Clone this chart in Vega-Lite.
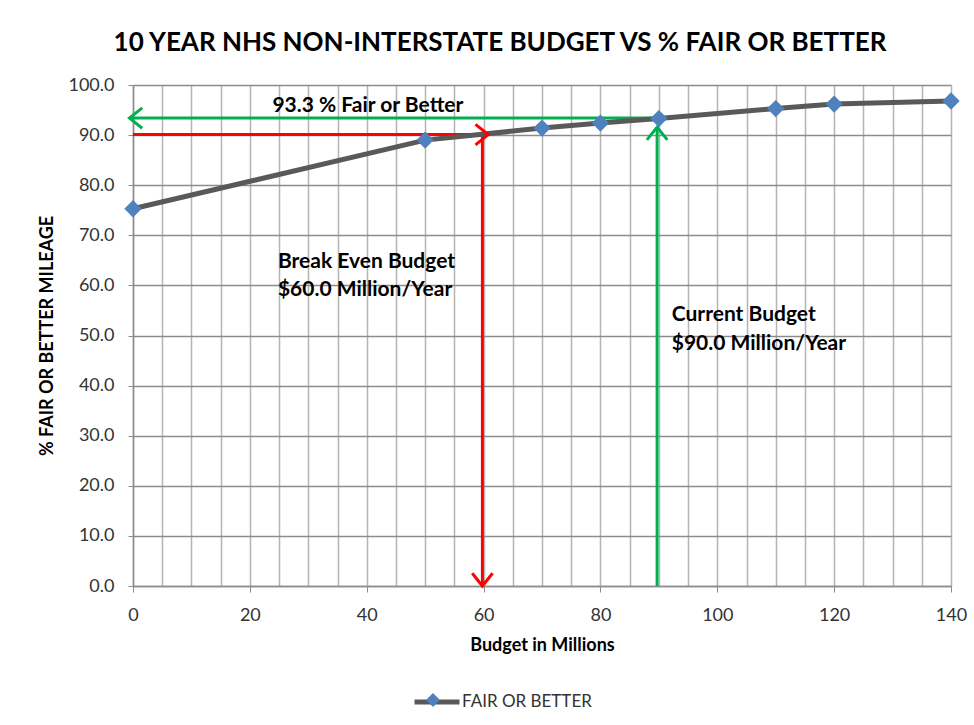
{
  "$schema": "https://vega.github.io/schema/vega-lite/v6.json",
  "width": 818,
  "height": 501,
  "autosize": "none",
  "padding": {"left": 133, "top": 85, "right": 23, "bottom": 139},
  "background": "white",
  "config": {
    "font": "Lato",
    "view": {"stroke": null}
  },
  "title": {
    "text": "10 YEAR NHS NON-INTERSTATE BUDGET VS % FAIR OR BETTER",
    "font": "Lato",
    "fontSize": 26,
    "fontWeight": "bold",
    "color": "#000000",
    "anchor": "middle",
    "frame": "group",
    "baseline": "bottom",
    "offset": -6,
    "dx": -42
  },
  "datasets": {
    "series": [
      {"budget": 0, "pct": 75.3},
      {"budget": 50, "pct": 89.0},
      {"budget": 70, "pct": 91.4},
      {"budget": 80, "pct": 92.4},
      {"budget": 90, "pct": 93.3},
      {"budget": 110, "pct": 95.3},
      {"budget": 120, "pct": 96.2},
      {"budget": 140, "pct": 96.8}
    ],
    "arrows": [
      {"kind": "current", "x": 90, "x2": -0.6, "y": 93.4, "y2": 93.4},
      {"kind": "current", "x": 89.7, "x2": 89.7, "y": 0, "y2": 91.6},
      {"kind": "breakeven", "x": 0, "x2": 60.8, "y": 90.1, "y2": 90.1},
      {"kind": "breakeven", "x": 59.8, "x2": 59.8, "y": 90.1, "y2": 0}
    ],
    "heads": [
      {"kind": "current", "dir": "left", "x": -0.6, "y": 93.4},
      {"kind": "current", "dir": "up", "x": 89.7, "y": 91.6},
      {"kind": "breakeven", "dir": "right", "x": 60.8, "y": 90.1},
      {"kind": "breakeven", "dir": "down", "x": 59.8, "y": 0}
    ],
    "labelsCenter": [
      {"x": 40.2, "y": 95.9, "text": "93.3 % Fair or Better"}
    ],
    "labelsLeft": [
      {"x": 24.8, "y": 64.7, "text": "Break Even Budget"},
      {"x": 24.8, "y": 59.1, "text": "$60.0 Million/Year"},
      {"x": 92.2, "y": 54.1, "text": "Current Budget"},
      {"x": 92.2, "y": 48.4, "text": "$90.0 Million/Year"}
    ]
  },
  "layer": [
    {
      "data": {"name": "series"},
      "mark": {"type": "line", "color": "#595959", "strokeWidth": 5, "opacity": 0},
      "encoding": {
        "x": {
          "field": "budget", "type": "quantitative",
          "scale": {"domain": [0, 140], "nice": false, "zero": false},
          "axis": {
            "title": "Budget in Millions",
            "values": [0,5,10,15,20,25,30,35,40,45,50,55,60,65,70,75,80,85,90,95,100,105,110,115,120,125,130,135,140],
            "tickCount": 40,
            "labelExpr": "datum.value % 20 === 0 ? datum.label : ''",
            "labelFlush": false,
            "labelFont": "Lato", "labelFontSize": 18, "labelColor": "#333333",
            "labelPadding": 14,
            "tickSize": 6, "tickColor": "#8c8c8c",
            "tickOpacity": {"condition": {"test": "datum.value % 20 === 0", "value": 1}, "value": 0},
            "domainColor": "#8c8c8c", "domainWidth": 1.5,
            "grid": true, "gridColor": "#b4b4b4", "gridWidth": 1.5,
            "titleFont": "Lato", "titleFontSize": 18, "titleFontWeight": "bold", "titleColor": "#000000",
            "titlePadding": 12
          }
        },
        "y": {
          "field": "pct", "type": "quantitative",
          "scale": {"domain": [0, 100], "nice": false},
          "axis": {
            "title": "% FAIR OR BETTER MILEAGE",
            "values": [0,10,20,30,40,50,60,70,80,90,100],
            "tickCount": 20,
            "format": ".1f",
            "labelFlush": false,
            "labelFont": "Lato", "labelFontSize": 18, "labelColor": "#333333",
            "labelPadding": 14,
            "tickSize": 5, "tickColor": "#8c8c8c",
            "domainColor": "#8c8c8c", "domainWidth": 1.5,
            "grid": true, "gridColor": "#8c8c8c", "gridWidth": 1.5,
            "titleFont": "Lato", "titleFontSize": 18, "titleFontWeight": "bold", "titleColor": "#000000",
            "titlePadding": 11
          }
        }
      }
    },
    {
      "data": {"name": "arrows"},
      "mark": {"type": "rule", "strokeWidth": 3},
      "encoding": {
        "x": {"field": "x", "type": "quantitative"},
        "x2": {"field": "x2"},
        "y": {"field": "y", "type": "quantitative"},
        "y2": {"field": "y2"},
        "color": {"field": "kind", "type": "nominal", "scale": {"domain": ["current", "breakeven"], "range": ["#00b050", "#ff0000"]}, "legend": null}
      }
    },
    {
      "data": {"name": "series"},
      "mark": {"type": "line", "strokeWidth": 5},
      "encoding": {
        "x": {"field": "budget", "type": "quantitative"},
        "y": {"field": "pct", "type": "quantitative"},
        "stroke": {
          "datum": "FAIR OR BETTER",
          "scale": {"range": ["#595959"]},
          "legend": {
            "title": null,
            "orient": "none",
            "legendX": 279,
            "legendY": 592,
            "padding": 0,
            "symbolType": "stroke",
            "symbolSize": 2025,
            "symbolStrokeWidth": 5,
            "symbolStrokeColor": "#595959",
            "labelOffset": 0,
            "labelFont": "Lato",
            "labelFontSize": 17,
            "labelColor": "#333333"
          }
        }
      }
    },
    {
      "data": {"name": "series"},
      "mark": {"type": "point", "filled": true, "size": 300, "color": "#4f81bd", "opacity": 1},
      "encoding": {
        "x": {"field": "budget", "type": "quantitative"},
        "y": {"field": "pct", "type": "quantitative"},
        "shape": {
          "datum": "marker",
          "scale": {"range": ["diamond"]},
          "legend": {
            "title": null,
            "orient": "none",
            "legendX": 293,
            "legendY": 608,
            "padding": 0,
            "symbolSize": 196,
            "symbolFillColor": "#4f81bd",
            "symbolStrokeColor": "#4f81bd",
            "symbolStrokeWidth": 0,
            "labelExpr": "''",
            "labelOpacity": 0
          }
        }
      }
    },
    {
      "data": {"name": "heads"},
      "transform": [{"filter": "datum.dir === 'right'"}],
      "mark": {"type": "point", "shape": "M-1,-0.8L0,0L-1,0.8", "filled": false, "size": 650, "strokeWidth": 3, "opacity": 1, "angle": 0},
      "encoding": {
        "x": {"field": "x", "type": "quantitative"},
        "y": {"field": "y", "type": "quantitative"},
        "color": {"field": "kind", "type": "nominal", "legend": null}
      }
    },
    {
      "data": {"name": "heads"},
      "transform": [{"filter": "datum.dir === 'down'"}],
      "mark": {"type": "point", "shape": "M-1,-0.8L0,0L-1,0.8", "filled": false, "size": 650, "strokeWidth": 3, "opacity": 1, "angle": 90},
      "encoding": {
        "x": {"field": "x", "type": "quantitative"},
        "y": {"field": "y", "type": "quantitative"},
        "color": {"field": "kind", "type": "nominal", "legend": null}
      }
    },
    {
      "data": {"name": "heads"},
      "transform": [{"filter": "datum.dir === 'left'"}],
      "mark": {"type": "point", "shape": "M-1,-0.8L0,0L-1,0.8", "filled": false, "size": 650, "strokeWidth": 3, "opacity": 1, "angle": 180},
      "encoding": {
        "x": {"field": "x", "type": "quantitative"},
        "y": {"field": "y", "type": "quantitative"},
        "color": {"field": "kind", "type": "nominal", "legend": null}
      }
    },
    {
      "data": {"name": "heads"},
      "transform": [{"filter": "datum.dir === 'up'"}],
      "mark": {"type": "point", "shape": "M-1,-0.8L0,0L-1,0.8", "filled": false, "size": 650, "strokeWidth": 3, "opacity": 1, "angle": 270},
      "encoding": {
        "x": {"field": "x", "type": "quantitative"},
        "y": {"field": "y", "type": "quantitative"},
        "color": {"field": "kind", "type": "nominal", "legend": null}
      }
    },
    {
      "data": {"name": "labelsCenter"},
      "mark": {"type": "text", "align": "center", "baseline": "middle", "font": "Lato", "fontSize": 21, "fontWeight": "bold", "color": "#000000"},
      "encoding": {
        "x": {"field": "x", "type": "quantitative"},
        "y": {"field": "y", "type": "quantitative"},
        "text": {"field": "text"}
      }
    },
    {
      "data": {"name": "labelsLeft"},
      "mark": {"type": "text", "align": "left", "baseline": "middle", "font": "Lato", "fontSize": 21, "fontWeight": "bold", "color": "#000000"},
      "encoding": {
        "x": {"field": "x", "type": "quantitative"},
        "y": {"field": "y", "type": "quantitative"},
        "text": {"field": "text"}
      }
    }
  ]
}
